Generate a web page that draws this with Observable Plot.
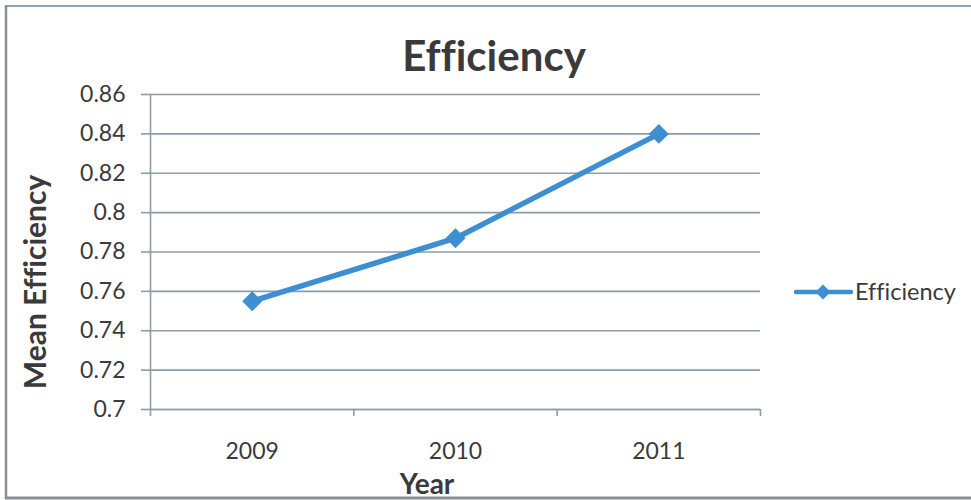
<!DOCTYPE html>
<html><head><meta charset="utf-8">
<script src="https://cdn.jsdelivr.net/npm/d3@7"></script>
<script src="https://cdn.jsdelivr.net/npm/@observablehq/plot@0.6"></script>
<style>
body{margin:0;background:#fff;}
#wrap{position:relative;width:971px;height:500px;overflow:hidden;background:#fff;font-variant-ligatures:none;}
#wrap svg{position:absolute;left:0;top:0;font-variant-ligatures:none;}
</style></head><body>
<div id="wrap"></div>
<script>
// ---- data ----
const years = [2009, 2010, 2011];
const efficiency = [0.755, 0.787, 0.840];
const yTicks = [0.70, 0.72, 0.74, 0.76, 0.78, 0.80, 0.82, 0.84, 0.86];
const yTickLabels = ["0.7", "0.72", "0.74", "0.76", "0.78", "0.8", "0.82", "0.84", "0.86"];
const xTickLabels = ["2009", "2010", "2011"];
const seriesName = "Efficiency";
const chartTitle = "Efficiency";
const xTitle = "Year";
const yTitle = "Mean Efficiency";

const data = years.map((year, i) => ({year, value: efficiency[i]}));
const xEdges = years.map(y => y - 0.5).concat([years[years.length - 1] + 0.5]);
const yLabelOf = new Map(yTicks.map((t, i) => [t, yTickLabels[i]]));
const xLabelOf = new Map(years.map((t, i) => [t, xTickLabels[i]]));

const lineColor = "#3d8fd1";
const gridColor = "#8e9ba8";
const textColor = "#3a3a3a";
const font = "Lato, 'DejaVu Sans', sans-serif";

const plot = Plot.plot({
  width: 971, height: 500,
  marginLeft: 150, marginRight: 211, marginTop: 94, marginBottom: 91,
  style: {fontFamily: font, fontSize: "23px", color: textColor, background: "transparent", overflow: "visible"},
  x: {type: "linear", domain: [xEdges[0], xEdges[xEdges.length - 1]]},
  y: {domain: [yTicks[0], yTicks[yTicks.length - 1]]},
  marks: [
    Plot.gridY(yTicks, {stroke: gridColor, strokeOpacity: 1, strokeWidth: 1.6}),
    Plot.axisY(yTicks, {tickSize: 9, tickPadding: 16, tickFormat: d => yLabelOf.get(d), stroke: gridColor, strokeWidth: 1.6, label: null, fontSize: 23, fill: textColor}),
    Plot.ruleX([xEdges[0]], {stroke: gridColor, strokeWidth: 1.6}),
    Plot.ruleY([yTicks[0]], {stroke: gridColor, strokeWidth: 1.6}),
    Plot.axisX(xEdges, {tickSize: 7, tickFormat: () => "", label: null, stroke: gridColor, strokeWidth: 1.6}),
    Plot.axisX(years, {tickSize: 0, tickPadding: 33, tickFormat: d => xLabelOf.get(d), label: null, fontSize: 23, fill: textColor}),
    Plot.line(data, {x: "year", y: "value", stroke: lineColor, strokeWidth: 5.5, strokeLinejoin: "round"}),
    Plot.dot(data, {x: "year", y: "value", symbol: "diamond2", r: 9, fill: lineColor, stroke: "none"})
  ]
});
const wrap = document.getElementById("wrap");
wrap.appendChild(plot);

// overlay: title, axis titles, legend, frame
const ns = "http://www.w3.org/2000/svg";
const ov = document.createElementNS(ns, "svg");
ov.setAttribute("width", 971); ov.setAttribute("height", 500);
ov.setAttribute("font-family", font);
function el(tag, attrs, text) {
  const e = document.createElementNS(ns, tag);
  for (const k in attrs) e.setAttribute(k, attrs[k]);
  if (text != null) e.textContent = text;
  ov.appendChild(e);
  return e;
}
el("text", {x: 494, y: 71, "text-anchor": "middle", "font-size": 42, "font-weight": "bold", fill: textColor}, chartTitle);
el("text", {transform: "translate(46,282) rotate(-90)", "text-anchor": "middle", "font-size": 30, "font-weight": "bold", fill: textColor}, yTitle);
el("text", {x: 427, y: 494, "text-anchor": "middle", "font-size": 28, "font-weight": "bold", fill: textColor}, xTitle);
// legend
el("line", {x1: 796, x2: 851, y1: 292, y2: 292, stroke: lineColor, "stroke-width": 4.5, "stroke-linecap": "round"});
el("path", {d: "M823,284.5 L830.5,292 L823,299.5 L815.5,292 Z", fill: lineColor});
el("text", {x: 855, y: 300, "font-size": 23.5, fill: textColor}, seriesName);
// frame
el("line", {x1: 6, x2: 971, y1: 6, y2: 6, stroke: "#8fa2b6", "stroke-width": 2});
el("line", {x1: 6, x2: 6, y1: 5, y2: 499, stroke: "#8a8f94", "stroke-width": 2.5});
el("line", {x1: 5, x2: 971, y1: 498, y2: 498, stroke: "#8a8f94", "stroke-width": 3});
wrap.appendChild(ov);
</script>
</body></html>
